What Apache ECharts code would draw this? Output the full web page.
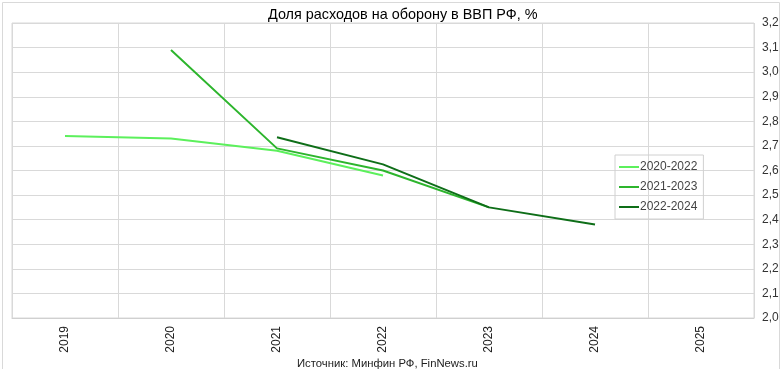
<!DOCTYPE html>
<html><head><meta charset="utf-8">
<script src="https://cdn.jsdelivr.net/npm/echarts@6/dist/echarts.min.js"></script>
<style>html,body{margin:0;padding:0;background:#fff}#c{width:780px;height:369px}</style>
</head><body><div id="c"></div>
<script>
const categories = ['2019','2020','2021','2022','2023','2024','2025'];
const s2020_2022 = [2.74, 2.73, 2.68, 2.58, null, null, null];
const s2021_2023 = [null, 3.09, 2.69, 2.60, 2.45, null, null];
const s2022_2024 = [null, null, 2.735, 2.625, 2.45, 2.38, null];
const seriesNames = ['2020-2022','2021-2023','2022-2024'];
const title = 'Доля расходов на оборону в ВВП РФ, %';
const source = 'Источник: Минфин РФ, FinNews.ru';

const colors = ['#5cf05c','#2db52d','#0e6e18'];
const chart = echarts.init(document.getElementById('c'), null, {renderer:'canvas'});
const font = '"Liberation Sans", Arial, sans-serif';
chart.setOption({
  animation:false,
  textStyle:{fontFamily:font},
  title:[{text:title,left:263,top:3,textStyle:{fontSize:14.4,fontWeight:'normal',color:'#000',fontFamily:font}},
         {text:source,left:292,top:353,textStyle:{fontSize:11.3,fontWeight:'normal',color:'#222',fontFamily:'"Liberation Sans Narrow","Liberation Sans",Arial,sans-serif'}}],
  grid:{left:12,right:26,top:23,bottom:51,show:true,borderColor:'#d9d9d9',borderWidth:1,containLabel:false,outerBoundsMode:'none'},
  legend:{orient:'vertical',left:615,top:155,itemWidth:20,itemHeight:2,itemGap:8,
    icon:'rect',borderColor:'#d0d0d0',borderWidth:1,padding:[6,6,6,4],
    textStyle:{fontSize:12,color:'#444',padding:[0,0,0,-4]},data:seriesNames},
  xAxis:{type:'category',data:categories,boundaryGap:true,
    axisLine:{lineStyle:{color:'#d0d0d0'}},axisTick:{show:false},
    axisLabel:{rotate:90,fontSize:12,color:'#222',margin:8},
    splitLine:{show:true,lineStyle:{color:'#d9d9d9'}}},
  yAxis:{type:'value',position:'right',min:2,max:3.2,interval:0.1,
    axisLine:{show:false},axisTick:{show:false},
    axisLabel:{fontSize:12,color:'#333',margin:8,formatter:v=>v.toFixed(1).replace('.',',')},
    splitLine:{lineStyle:{color:'#d9d9d9'}}},
  series:[
    {name:seriesNames[0],type:'line',data:s2020_2022,showSymbol:false,symbol:'none',color:colors[0],lineStyle:{width:2,color:colors[0]},connectNulls:false,z:2},
    {name:seriesNames[1],type:'line',data:s2021_2023,showSymbol:false,symbol:'none',color:colors[1],lineStyle:{width:2,color:colors[1]},z:3},
    {name:seriesNames[2],type:'line',data:s2022_2024,showSymbol:false,symbol:'none',color:colors[2],lineStyle:{width:2,color:colors[2]},z:4}
  ],
  graphic:[{type:'rect',left:0,top:0,shape:{x:0,y:0,width:777,height:367},style:{fill:'none',stroke:'#d9d9d9',lineWidth:1},silent:true}]
});
</script></body></html>
